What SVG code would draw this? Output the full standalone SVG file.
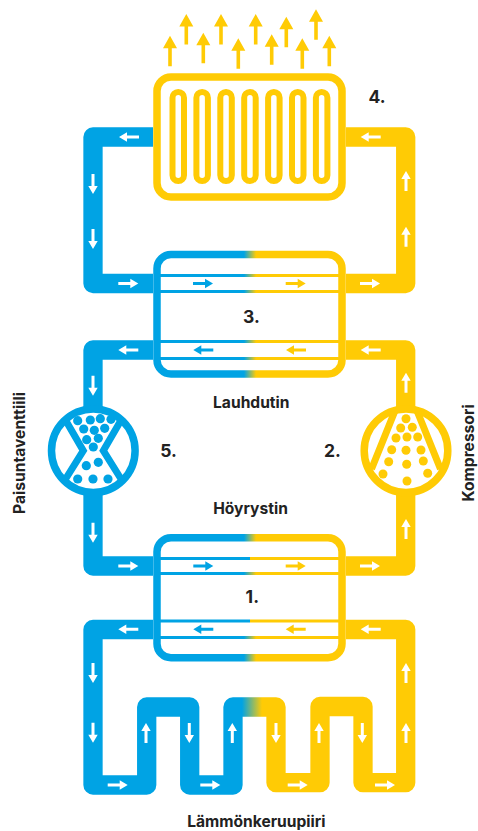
<svg xmlns="http://www.w3.org/2000/svg" width="478" height="831" viewBox="0 0 478 831">
<style>
.pipe{fill:none;stroke-width:19.3;stroke-linejoin:round}
.b{stroke:#00a3e4}.y{stroke:#ffcb05}
.fb{fill:#00a3e4}.fy{fill:#ffcb05}.fw{fill:#fff}
.hx{fill:#fff;stroke-width:7.5}
.t{font-family:"Inter","Liberation Sans",sans-serif;font-weight:700;fill:#222}
.l{font-size:15.6px;text-anchor:middle}
.n{font-size:17.5px;text-anchor:middle}
</style>
<defs>
<path id="ar" d="M-10-1.5H2V-4.7L10 0 2 4.7V1.5H-10Z"/>
<path id="up" d="M-1.8 30.5V12.5H-7L0 0 7 12.5H1.8V30.5Z"/>
<linearGradient id="g" gradientUnits="userSpaceOnUse" x1="244" y1="0" x2="256" y2="0"><stop offset="0" stop-color="#00a3e4"/><stop offset="1" stop-color="#ffcb05"/></linearGradient>
<linearGradient id="s" gradientUnits="userSpaceOnUse" x1="250" y1="0" x2="250.5" y2="0"><stop offset="0" stop-color="#00a3e4"/><stop offset="1" stop-color="#ffcb05"/></linearGradient>
<linearGradient id="m" gradientUnits="userSpaceOnUse" x1="242" y1="0" x2="262" y2="0"><stop offset="0" stop-color="#00a3e4"/><stop offset="1" stop-color="#ffcb05"/></linearGradient>
</defs>
<g id="connectors">
<path class="pipe b" d="M153 137H93V283.5H153"/>
<path class="pipe y" d="M346 137H405.7V283.5H346"/>
<path class="pipe b" d="M153 350H93V566H153"/>
<path class="pipe y" d="M346 350H405.7V566H346"/>
<path class="pipe" stroke="url(#m)" d="M153 629.5H93V785H146.7V707H189.7V785H233V707H276V782.7H320V706.5H363V782.7H405.7V629.5H346"/>
<g class="fw">
<use href="#ar" transform="translate(129 137) rotate(180)"/>
<use href="#ar" transform="translate(93 184) rotate(90)"/>
<use href="#ar" transform="translate(93 239) rotate(90)"/>
<use href="#ar" transform="translate(128.300 283.500)"/>
<use href="#ar" transform="translate(370.700 137) rotate(180)"/>
<use href="#ar" transform="translate(406 181) rotate(-90)"/>
<use href="#ar" transform="translate(406 236.700) rotate(-90)"/>
<use href="#ar" transform="translate(370 283.500)"/>
<use href="#ar" transform="translate(128.300 350) rotate(180)"/>
<use href="#ar" transform="translate(370.700 350) rotate(180)"/>
<use href="#ar" transform="translate(93 385.700) rotate(90)"/>
<use href="#ar" transform="translate(406 382.700) rotate(-90)"/>
<use href="#ar" transform="translate(93 532.700) rotate(90)"/>
<use href="#ar" transform="translate(406 529) rotate(-90)"/>
<use href="#ar" transform="translate(128.300 566)"/>
<use href="#ar" transform="translate(370 566)"/>
<use href="#ar" transform="translate(128.300 629.300) rotate(180)"/>
<use href="#ar" transform="translate(370.700 629.300) rotate(180)"/>
<use href="#ar" transform="translate(93 673) rotate(90)"/>
<use href="#ar" transform="translate(93 732.700) rotate(90)"/>
<use href="#ar" transform="translate(117.700 785)"/>
<use href="#ar" transform="translate(146 733) rotate(-90)"/>
<use href="#ar" transform="translate(189.300 733) rotate(90)"/>
<use href="#ar" transform="translate(210.300 785)"/>
<use href="#ar" transform="translate(232.300 733) rotate(-90)"/>
<use href="#ar" transform="translate(276 733) rotate(90)"/>
<use href="#ar" transform="translate(297.700 785)"/>
<use href="#ar" transform="translate(319 733) rotate(-90)"/>
<use href="#ar" transform="translate(362.300 733) rotate(90)"/>
<use href="#ar" transform="translate(385 785)"/>
<use href="#ar" transform="translate(406 673) rotate(-90)"/>
<use href="#ar" transform="translate(406 733) rotate(-90)"/>
</g>
</g>
<g id="heat-output" class="fy">
<use href="#up" x="170" y="35.700"/><use href="#up" x="186.300" y="14"/><use href="#up" x="203.300" y="32.700"/>
<use href="#up" x="221" y="14"/><use href="#up" x="238.300" y="38.300"/><use href="#up" x="255.700" y="14"/>
<use href="#up" x="271.700" y="34.300"/><use href="#up" x="286.300" y="16.700"/><use href="#up" x="302.300" y="38.300"/>
<use href="#up" x="316" y="9.300"/><use href="#up" x="329.300" y="35.700"/>
</g>
<g id="radiator">
<rect class="hx y" x="157" y="77" width="185" height="120" rx="14"/>
<g fill="none" stroke="#ffcb05" stroke-width="6">
<rect x="172.500" y="92" width="11.500" height="89" rx="5.700"/>
<rect x="196.400" y="92" width="11.500" height="89" rx="5.700"/>
<rect x="220.300" y="92" width="11.500" height="89" rx="5.700"/>
<rect x="244.200" y="92" width="11.500" height="89" rx="5.700"/>
<rect x="268.100" y="92" width="11.500" height="89" rx="5.700"/>
<rect x="292" y="92" width="11.500" height="89" rx="5.700"/>
<rect x="315.900" y="92" width="11.500" height="89" rx="5.700"/>
</g>
<text class="t n" x="377" y="103">4.</text>
</g>
<g id="condenser">
<rect class="hx" stroke="url(#g)" x="157" y="254.500" width="185" height="119.500" rx="14"/>
<g fill="url(#g)">
<rect x="157" y="274" width="185" height="3"/><rect x="157" y="290" width="185" height="3"/>
<rect x="157" y="340" width="185" height="3"/><rect x="157" y="357" width="185" height="3"/>
</g>
<use class="fb" href="#ar" transform="translate(203 283.500)"/>
<use class="fy" href="#ar" transform="translate(295.700 283.500)"/>
<use class="fb" href="#ar" transform="translate(203.300 350) rotate(180)"/>
<use class="fy" href="#ar" transform="translate(296 350) rotate(180)"/>
<text class="t n" x="251.500" y="323">3.</text>
<text class="t l" x="251.300" y="407.700">Lauhdutin</text>
</g>
<g id="expansion-valve">
<circle class="fw" cx="93.300" cy="450.700" r="42"/>
<g class="fb">
<circle cx="77.700" cy="420.700" r="4.600"/><circle cx="90.300" cy="420" r="4.600"/><circle cx="100.300" cy="418.700" r="4.600"/><circle cx="111" cy="419.300" r="4.600"/>
<circle cx="83.700" cy="429" r="4.600"/><circle cx="94.300" cy="430.300" r="4.600"/><circle cx="104.700" cy="428.300" r="4.600"/>
<circle cx="86.700" cy="439.700" r="4.600"/><circle cx="98.300" cy="438.300" r="4.600"/><circle cx="93.300" cy="447" r="4.600"/>
<circle cx="86.300" cy="465.700" r="4.600"/><circle cx="98.300" cy="462.300" r="4.600"/>
<circle cx="77.700" cy="479" r="4.600"/><circle cx="93" cy="479" r="4.600"/><circle cx="108" cy="479" r="4.600"/>
</g>
<g fill="none" stroke="#00a3e4">
<circle cx="93.300" cy="450.700" r="41.800" stroke-width="7.500"/>
<path stroke-width="7" d="M64 417.500 83.300 450.700 64 481.500M122.600 417.500 103.300 450.700 122.600 481.500"/>
</g>
<text class="t n" x="168.500" y="456.700">5.</text>
<text class="t l" transform="translate(25 453) rotate(-90)">Paisuntaventtiili</text>
</g>
<g id="compressor">
<circle class="fw" cx="406" cy="450.700" r="42"/>
<g class="fy">
<circle cx="406" cy="418.700" r="4.500"/><circle cx="400.700" cy="428" r="4.500"/><circle cx="412.300" cy="427.300" r="4.500"/>
<circle cx="396" cy="438" r="4.500"/><circle cx="407" cy="437" r="4.500"/><circle cx="417.700" cy="437" r="4.500"/>
<circle cx="391.700" cy="449.700" r="4.500"/><circle cx="406" cy="450.300" r="4.500"/><circle cx="421" cy="450" r="4.500"/>
<circle cx="388.700" cy="461.700" r="4.500"/><circle cx="406.700" cy="464.300" r="4.500"/><circle cx="423.300" cy="461" r="4.500"/>
<circle cx="383" cy="474" r="4.500"/><circle cx="407" cy="481" r="4.500"/><circle cx="427.700" cy="473.300" r="4.500"/>
</g>
<g fill="none" stroke="#ffcb05">
<circle cx="406" cy="450.700" r="41.800" stroke-width="7.500"/>
<path stroke-width="7" d="M394.500 412 371.500 469M417.500 412 440.500 469"/>
</g>
<text class="t n" x="332.500" y="456.700">2.</text>
<text class="t l" transform="translate(474 453) rotate(-90)">Kompressori</text>
</g>
<g id="evaporator">
<rect class="hx" stroke="url(#g)" x="157" y="537.800" width="185" height="120" rx="14"/>
<rect fill="url(#s)" x="157" y="557" width="185" height="3"/>
<rect fill="url(#g)" x="157" y="572" width="185" height="3"/>
<rect fill="url(#s)" x="157" y="619.500" width="185" height="3"/>
<rect fill="url(#g)" x="157" y="636" width="185" height="3"/>
<use class="fb" href="#ar" transform="translate(203.300 566)"/>
<use class="fy" href="#ar" transform="translate(295.700 566)"/>
<use class="fb" href="#ar" transform="translate(203.300 629.300) rotate(180)"/>
<use class="fy" href="#ar" transform="translate(295.700 629.300) rotate(180)"/>
<text class="t n" x="252.300" y="602.700">1.</text>
<text class="t l" x="250.500" y="514">Höyrystin</text>
</g>
<g id="ground-loop-label">
<text class="t l" x="256.300" y="827">Lämmönkeruupiiri</text>
</g>
</svg>
